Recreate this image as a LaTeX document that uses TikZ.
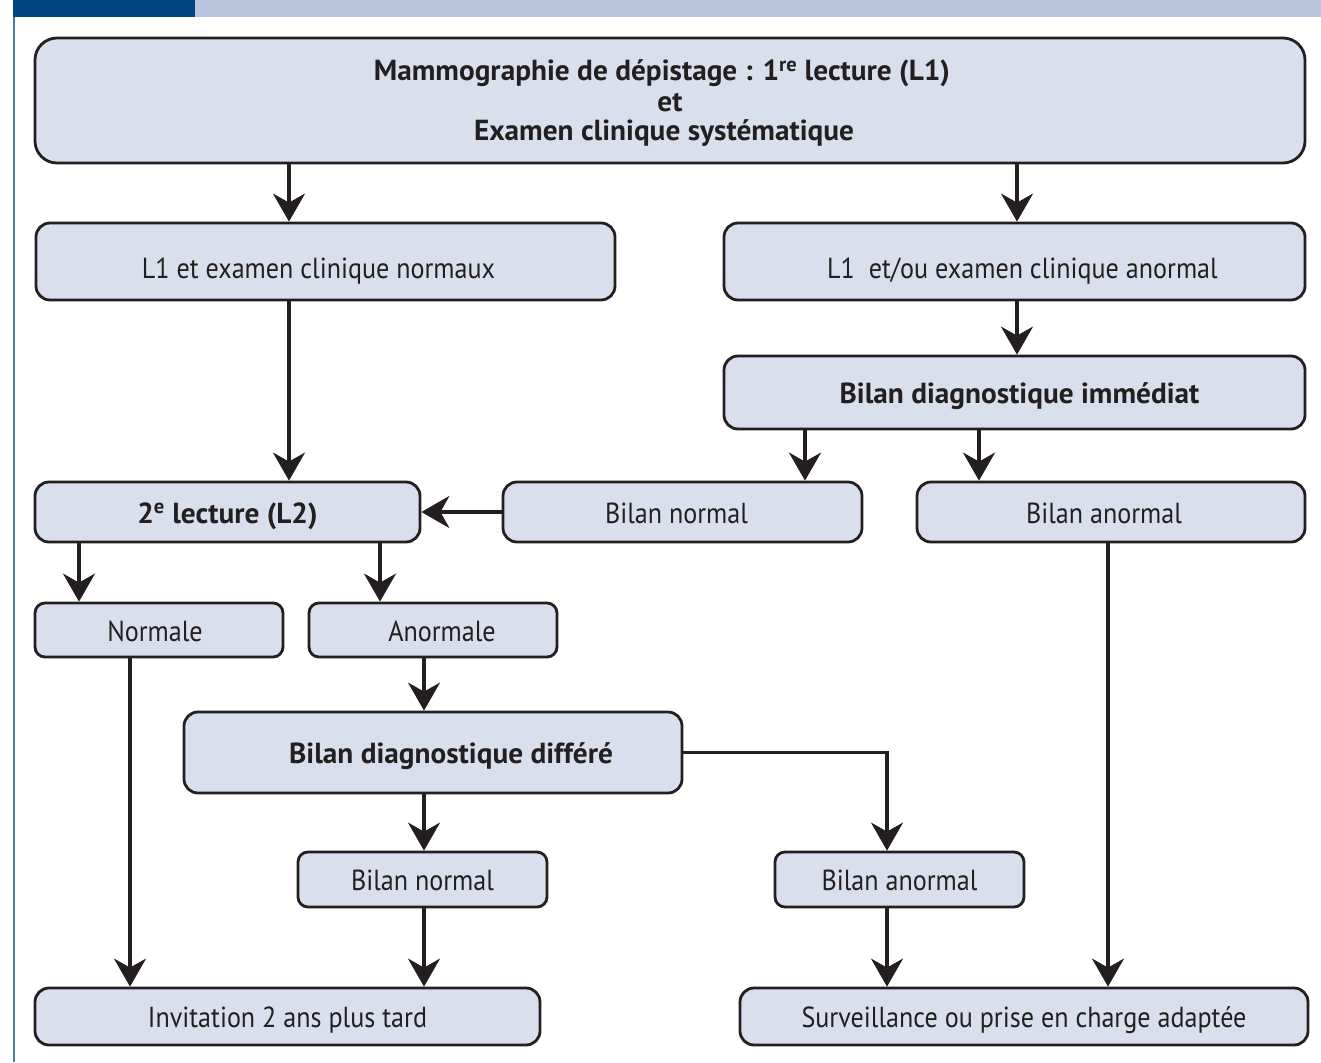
\documentclass[tikz,border=0pt]{standalone}
\usepackage{fontspec}
\setmainfont{PT Sans}[FakeStretch=0.90]
\newfontfamily\boldfam{PT Sans}[FakeStretch=1.01]
\usetikzlibrary{arrows.meta}
\definecolor{boxfill}{HTML}{D9DFEC}
\definecolor{ink}{HTML}{231F20}
\definecolor{bardark}{HTML}{00457F}
\definecolor{barlight}{HTML}{B8C5DC}
\definecolor{sideline}{HTML}{4B7BAA}
\tikzset{
  box/.style={draw=ink, fill=boxfill, line width=2.8pt, rounded corners=14pt,
    inner sep=0pt, text=ink, font=\fontsize{29}{32}\selectfont,
    text height=22pt, text depth=0pt},
  bigbox/.style={box, rounded corners=22pt},
  bbold/.style={font=\fontsize{29}{32}\selectfont\boldfam\bfseries},
  toptext/.style={inner sep=0pt, anchor=base, text=ink, bbold},
  arr/.style={draw=ink, line width=3.2pt,
    -{Stealth[length=28pt, width=32pt, inset=9pt]}},
}
\begin{document}
\begin{tikzpicture}[x=1pt, y=-1pt]
\useasboundingbox (0,0) rectangle (1321,1062);
\fill[white] (0,0) rectangle (1321,1062);
% header bars
\fill[bardark] (13,0) rectangle (195,17);
\fill[barlight] (195,0) rectangle (1321,17);
\draw[sideline, line width=1.8pt] (14.2,17) -- (14.2,1062);

% nodes
\node[bigbox, minimum width=1270pt, minimum height=125pt] (top) at (670,100.5) {};
\node[toptext] (t1) at (662,81) {Mammographie de dépistage : 1\textsuperscript{re} lecture (L1)};
\node[toptext, text height=14pt, text depth=0pt] (t2) at (670,112) {et};
\node[toptext, text height=20pt] (t3) at (664,140) {Examen clinique systématique};
\node[box, text height=33pt, minimum width=579pt, minimum height=77pt] (l1n) at (325.5,261.5) {L1 et examen clinique normaux\hspace*{14pt}};
\node[box, text height=33pt, minimum width=581pt, minimum height=77pt] (l1a) at (1014.5,261.5) {\hspace*{16pt}L1\ \ et/ou examen clinique anormal};
\node[box, bbold, minimum width=581pt, minimum height=73pt] (imm) at (1014.5,392.5) {\hspace*{10pt}Bilan diagnostique immédiat};
\node[box, bbold, minimum width=385pt, minimum height=60pt] (l2) at (227.5,512) {2\textsuperscript{e} lecture (L2)};
\node[box, minimum width=359pt, minimum height=60pt] (bn1) at (682.5,512) {Bilan normal\hspace*{12pt}};
\node[box, minimum width=388pt, minimum height=60pt] (ba1) at (1111,512) {Bilan anormal\hspace*{14pt}};
\node[box, rounded corners=10pt, minimum width=248pt, minimum height=54pt] (nor) at (159,630) {Normale\hspace*{8pt}};
\node[box, rounded corners=10pt, minimum width=248pt, minimum height=54pt] (anor) at (433,630) {\hspace*{18pt}Anormale};
\node[box, bbold, minimum width=498pt, minimum height=81pt] (dif) at (433,752.5) {\hspace*{36pt}Bilan diagnostique différé};
\node[box, rounded corners=10pt, minimum width=249pt, minimum height=55pt] (bn2) at (422.5,879.5) {Bilan normal};
\node[box, rounded corners=10pt, minimum width=249pt, minimum height=55pt] (ba2) at (899.5,879.5) {Bilan anormal};
\node[box, minimum width=505pt, minimum height=57pt] (inv) at (287.5,1016.5) {Invitation 2 ans plus tard};
\node[box, minimum width=568pt, minimum height=57pt] (sur) at (1024,1016.5) {Surveillance ou prise en charge adaptée};

% connectors
\draw[arr] (top.south -| 289,0) -- (l1n.north -| 289,0);
\draw[arr] (top.south -| 1017,0) -- (l1a.north -| 1017,0);
\draw[arr] (l1n.south -| 289,0) -- (l2.north -| 289,0);
\draw[arr] (l1a.south -| 1017,0) -- (imm.north -| 1017,0);
\draw[arr] (imm.south -| 805,0) -- (bn1.north -| 805,0);
\draw[arr] (imm.south -| 979,0) -- (ba1.north -| 979,0);
\draw[arr] (bn1.west) -- (l2.east);
\draw[arr] (l2.south -| 79,0) -- (nor.north -| 79,0);
\draw[arr] (l2.south -| 380,0) -- (anor.north -| 380,0);
\draw[arr] (nor.south -| 130,0) -- (inv.north -| 130,0);
\draw[arr] (anor.south -| 424,0) -- (dif.north -| 424,0);
\draw[arr] (dif.south -| 424,0) -- (bn2.north -| 424,0);
\draw[arr] (dif.east) -| (ba2.north -| 887,0);
\draw[arr] (bn2.south -| 424,0) -- (inv.north -| 424,0);
\draw[arr] (ba2.south -| 887,0) -- (sur.north -| 887,0);
\draw[arr] (ba1.south -| 1108,0) -- (sur.north -| 1108,0);
\end{tikzpicture}
\end{document}
